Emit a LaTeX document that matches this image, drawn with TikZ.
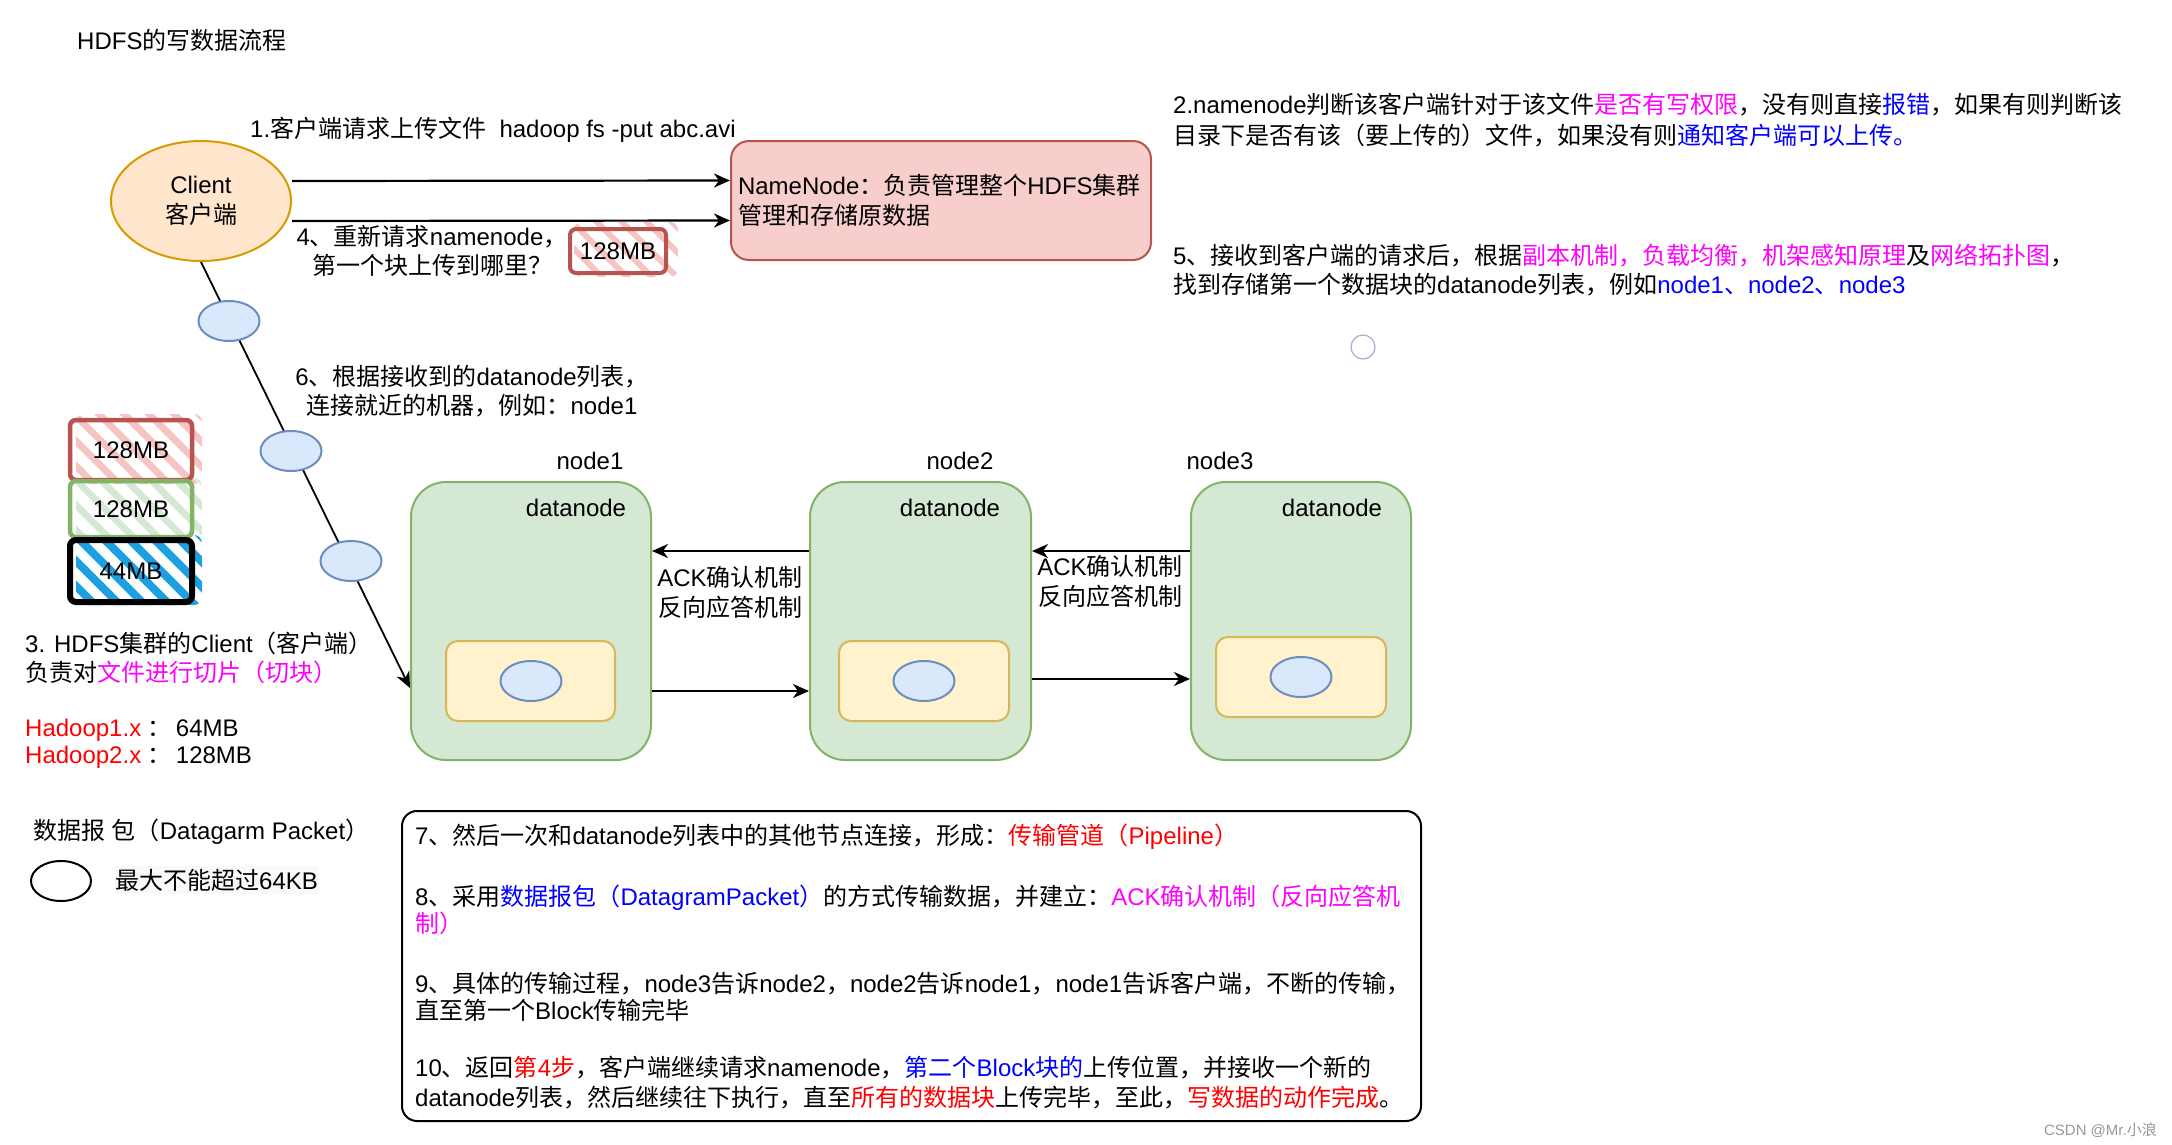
\documentclass[tikz,border=0pt]{standalone}
\usepackage{fontspec}
\setmainfont{Liberation Sans}
\newfontfamily\cjkfont{Noto Sans CJK SC}
\newfontfamily\latfont{Liberation Sans}
\usetikzlibrary{shapes.geometric,arrows.meta}
\newXeTeXintercharclass\cjkcls
\newcount\cjkn
\def\setcjkrange#1#2{\cjkn=#1\relax\loop\XeTeXcharclass\cjkn=\cjkcls\relax\ifnum\cjkn<#2\relax\advance\cjkn by 1\repeat}
\setcjkrange{"3000}{"303F}
\setcjkrange{"4E00}{"9FFF}
\setcjkrange{"FF00}{"FFEF}
\XeTeXinterchartoks 0 \cjkcls = {\cjkfont}
\XeTeXinterchartoks 1 \cjkcls = {\cjkfont}
\XeTeXinterchartoks 2 \cjkcls = {\cjkfont}
\XeTeXinterchartoks 3 \cjkcls = {\cjkfont}
\XeTeXinterchartoks 4095 \cjkcls = {\cjkfont}
\XeTeXinterchartoks \cjkcls 0 = {\latfont}
\XeTeXinterchartoks \cjkcls 4095 = {\latfont}
\XeTeXinterchartoks 4095 0 = {\latfont}
\definecolor{clF}{HTML}{FFE6CC}
\definecolor{clD}{HTML}{D79B00}
\definecolor{nnF}{HTML}{F8CECC}
\definecolor{nnD}{HTML}{B85450}
\definecolor{dnF}{HTML}{D5E8D4}
\definecolor{dnD}{HTML}{82B366}
\definecolor{yF}{HTML}{FFF2CC}
\definecolor{yD}{HTML}{D6B656}
\definecolor{pkF}{HTML}{DAE8FC}
\definecolor{pkD}{HTML}{6C8EBF}
\definecolor{hRed}{HTML}{F6C4C2}
\definecolor{hGreen}{HTML}{D5E8D4}
\definecolor{hBlue}{HTML}{1BA1E2}
\definecolor{mg}{HTML}{FF00FF}
\definecolor{bl}{HTML}{0000FF}
\definecolor{rd}{HTML}{FF0000}
\definecolor{dotC}{HTML}{A9A9D6}
\definecolor{wmC}{HTML}{999999}
\definecolor{bgG}{HTML}{F8F9FA}
\newcommand\cmag[1]{\textcolor{mg}{#1}}
\newcommand\cblue[1]{\textcolor{bl}{#1}}
\newcommand\cred[1]{\textcolor{rd}{#1}}
\newcommand\fsz{\fontsize{24}{29}\selectfont}
\newcommand\fszw{\fontsize{24}{31}\selectfont}
\newcommand\fszn{\fontsize{24}{27}\selectfont}
\newcommand\fszm{\fontsize{24}{30}\selectfont}
\begin{document}
\XeTeXinterchartokenstate=1
\begin{tikzpicture}[x=1pt,y=-1pt,
  txt/.style={inner sep=0pt, font=\fsz, align=left},
  arr/.style={line width=2.2pt, -{Stealth[length=16pt,width=14pt,inset=5pt]}},
  dn/.style={draw=dnD, fill=dnF, line width=2pt, rounded corners=35pt, minimum height=278pt},
  yb/.style={draw=yD, fill=yF, line width=2pt, rounded corners=12pt, minimum width=170pt, minimum height=80pt},
  pk/.style={ellipse, draw=pkD, fill=pkF, line width=2pt, minimum width=61pt, minimum height=40pt, inner sep=0pt},
  sk/.style={rounded corners=6pt, line width=4.5pt, font=\fsz, inner sep=0pt, minimum width=122pt},
  hatch/.style={line width=7pt}]
\fill[white] (0,0) rectangle (2172,1144);
\useasboundingbox (0,0) rectangle (2172,1144);

% title
\node[txt, anchor=west] (title) at (77,40) {HDFS的写数据流程};

% client and namenode
\node[ellipse, draw=clD, fill=clF, line width=2pt, minimum width=180pt, minimum height=120pt,
  font=\fszm, align=center, inner sep=0pt] (client) at (201,201) {Client\\客户端};
\node[draw=nnD, fill=nnF, line width=2pt, rounded corners=18pt, minimum width=420pt,
  minimum height=119pt, text width=406pt, inner xsep=7pt, align=left, font=\fszm] (nn) at (941,200.5)
  {NameNode：负责管理整个HDFS集群\\管理和存储原数据};
\draw[arr] ([yshift=20pt]client.east) -- ([yshift=20pt]nn.west);
\draw[arr] ([yshift=-20pt]client.east) -- ([yshift=-20pt]nn.west);
\node[txt, anchor=west] (lab1) at (250,130) {1.客户端请求上传文件\ \ hadoop fs -put abc.avi};
\node[txt, align=center] (lab4) at (432,251) {4、重新请求namenode，\\第一个块上传到哪里？};

% small 128MB block
\begin{scope}
  \clip[rounded corners=8pt] (574,222) rectangle (678,277);
  \foreach \k in {-2,...,5} \draw[hatch, hRed, line width=6pt] ({570+\k*25},220) -- ++(60,60);
\end{scope}
\node[sk, draw=nnD, minimum width=96pt, minimum height=44pt, line width=4pt] (blkq) at (618,251) {128MB};

% right texts
\node[txt, anchor=west, font=\fszw] (lab2) at (1173,120.5)
  {2.namenode判断该客户端针对于该文件\cmag{是否有写权限}，没有则直接\cblue{报错}，如果有则判断该\\目录下是否有该（要上传的）文件，如果没有则\cblue{通知客户端可以上传。}};
\node[txt, anchor=west] (lab5) at (1173,270.5)
  {5、接收到客户端的请求后，根据\cmag{副本机制，负载均衡，机架感知原理}及\cmag{网络拓扑图}，\\找到存储第一个数据块的datanode列表，例如\cblue{node1、node2、node3}};
\node[circle, draw=dotC, line width=1.2pt, minimum size=24pt, inner sep=0pt] (dot) at (1363,347) {};

% datanodes
\node[dn, minimum width=240pt] (dn1) at (531,621) {};
\node[dn, minimum width=221pt] (dn2) at (920.5,621) {};
\node[dn, minimum width=220pt] (dn3) at (1301,621) {};
\node[yb, minimum width=169pt] (blk1) at (530.5,681) {};
\node[pk] (pkt1) at (531,681) {};
\node[yb] (blk2) at (924,681) {};
\node[pk] (pkt2) at (924,681) {};
\node[yb] (blk3) at (1301,677) {};
\node[pk] (pkt3) at (1301,677) {};
\node[txt] (n1lab) at (590,461) {node1};
\node[txt] (n2lab) at (960,461) {node2};
\node[txt] (n3lab) at (1220,461) {node3};
\node[txt] (d1lab) at (576,508) {datanode};
\node[txt] (d2lab) at (950,508) {datanode};
\node[txt] (d3lab) at (1332,508) {datanode};
\draw[arr] ([yshift=70pt]dn2.west) -- ([yshift=70pt]dn1.east);
\draw[arr] ([yshift=-70pt]dn1.east) -- ([yshift=-70pt]dn2.west);
\draw[arr] ([yshift=70pt]dn3.west) -- ([yshift=70pt]dn2.east);
\draw[arr] ([yshift=-58pt]dn2.east) -- ([yshift=-58pt]dn3.west);
\node[txt, align=center, font=\fszm] (ack1) at (730,592) {ACK确认机制\\反向应答机制};
\node[txt, align=center, font=\fszm] (ack2) at (1110,581) {ACK确认机制\\反向应答机制};

% client to datanode1 with packets
\draw[line width=1.8pt, -{Stealth[length=16pt,width=14pt,inset=5pt]}] (client.south) -- ([yshift=-67pt]dn1.west);
\node[pk] (pk1) at (229,321) {};
\node[pk] (pk2) at (291,451) {};
\node[pk] (pk3) at (351,561) {};
\node[txt, align=center] (lab6) at (472,391) {6、根据接收到的datanode列表，\\连接就近的机器，例如：node1};

% left blocks
\begin{scope}
  \clip[rounded corners=8pt] (76,414) rectangle (202,484);
  \foreach \k in {-3,...,6} \draw[hatch, hRed] ({70+\k*25},410) -- ++(76,76);
\end{scope}
\begin{scope}
  \clip[rounded corners=8pt] (76,478) rectangle (202,541);
  \foreach \k in {-3,...,6} \draw[hatch, hGreen] ({70+\k*25},474) -- ++(72,72);
\end{scope}
\begin{scope}
  \clip[rounded corners=8pt] (76,535) rectangle (202,605);
  \foreach \k in {-3,...,6} \draw[hatch, hBlue, line width=8pt] ({70+\k*25},530) -- ++(80,80);
\end{scope}
\node[sk, draw=nnD, minimum height=60pt] (b1) at (131,450) {128MB};
\node[sk, draw=dnD, minimum height=56pt] (b2) at (131,509) {128MB};
\node[sk, draw=black, minimum height=62pt, line width=6pt] (b3) at (131,571) {44MB};

\node[txt, anchor=west] (lab3) at (25,657.5) {3. HDFS集群的Client（客户端）\\负责对\cmag{文件进行切片（切块）}};
\node[txt, anchor=west, font=\fszn] (hd) at (25,744) {\cred{Hadoop1.x} ：\,64MB\\\cred{Hadoop2.x} ：\,128MB};

% datagram legend
\node[txt, anchor=west] (dg) at (33,832) {数据报 包（Datagarm Packet）};
\node[ellipse, draw=black, line width=2pt, minimum width=60pt, minimum height=40pt, inner sep=0pt] (dgk) at (61,881) {};
\node[txt, anchor=west, fill=bgG, inner ysep=3pt] (dgt) at (115,880) {最大不能超过64KB};

% bottom steps box
\node[draw=black, fill=white, line width=2pt, rounded corners=15pt, minimum width=1019pt, minimum height=310pt] (steps) at (911.5,966) {};
\node[txt, anchor=west] (s7) at (415,837) {7、然后一次和datanode列表中的其他节点连接，形成：\cred{传输管道（Pipeline）}};
\node[txt, anchor=west, font=\fszn] (s8) at (415,910) {8、采用\cblue{数据报包（DatagramPacket）}的方式传输数据，并建立：\cmag{ACK确认机制（反向应答机}\\\cmag{制）}};
\node[txt, anchor=west, font=\fszn] (s9) at (415,996.5) {9、具体的传输过程，node3告诉node2，node2告诉node1，node1告诉客户端，不断的传输，\\直至第一个Block传输完毕};
\node[txt, anchor=west, font=\fszm] (s10) at (415,1083) {10、返回\cred{第4步}，客户端继续请求namenode，\cblue{第二个Block块的}上传位置，并接收一个新的\\datanode列表，然后继续往下执行，直至\cred{所有的数据块}上传完毕，至此，\cred{写数据的动作完成}。};

% watermark
\node[anchor=east, inner sep=0pt, font=\fontsize{15}{18}\selectfont, text=wmC] (wm) at (2157,1130) {CSDN @Mr.小浪};
\end{tikzpicture}
\end{document}
